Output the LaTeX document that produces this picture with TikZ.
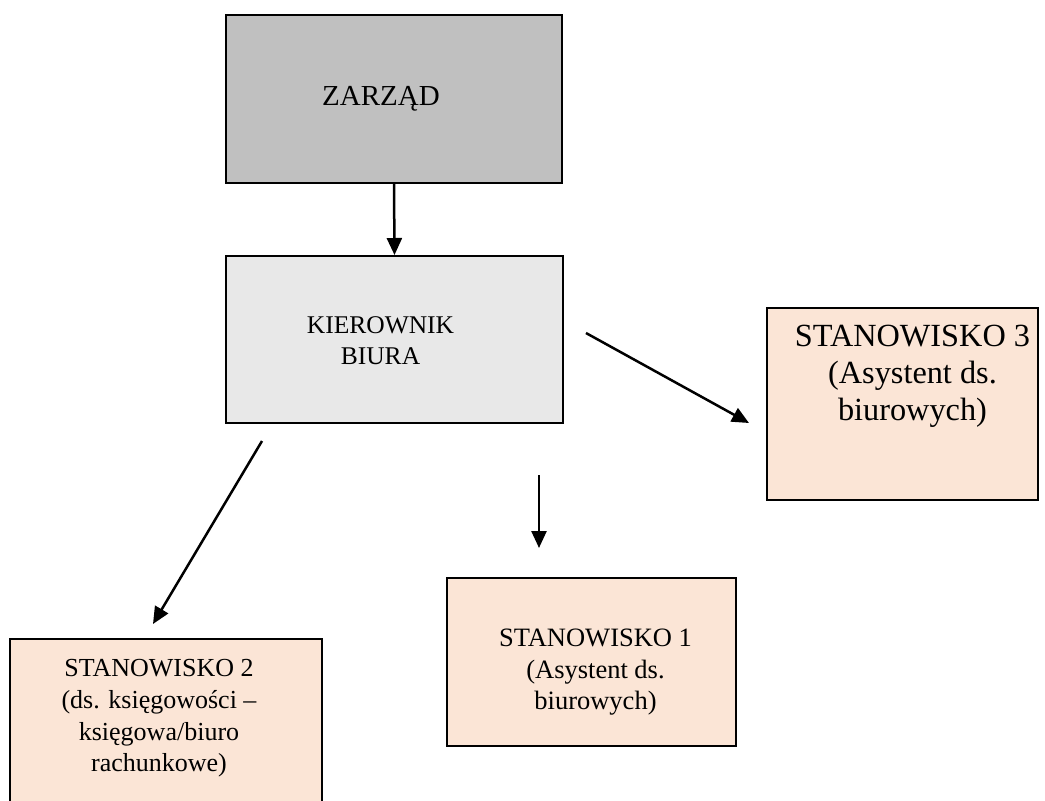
\documentclass[tikz,border=0pt]{standalone}
\usepackage{fontspec}
\setmainfont{Liberation Serif}
\usetikzlibrary{arrows.meta}
\definecolor{zarzadgray}{HTML}{C0C0C0}
\definecolor{kierownikgray}{HTML}{E8E8E8}
\definecolor{stanpeach}{HTML}{FBE5D6}
\newcommand{\napis}[3]{\raisebox{#2}[\height][\depth]{\begin{tabular}{@{\hspace{#1}}c@{}}#3\end{tabular}}}
\begin{document}
\begin{tikzpicture}[x=1pt,y=-1pt,
		box/.style={draw=black,line width=2pt,rectangle,inner sep=0pt},
		strzalka/.style={line width=2.5pt,-{Triangle[length=17pt,width=15pt]}}]
			\clip (0,0) rectangle (1045,801);
			\node[box,fill=zarzadgray,minimum width=336pt,minimum height=168pt,font=\fontsize{29}{33}\selectfont] (zarzad) at (394,99) {\napis{-26pt}{0pt}{ZARZĄD}};
			\node[box,fill=kierownikgray,minimum width=337pt,minimum height=167pt,font=\fontsize{25.5}{31}\selectfont] (kierownik) at (394.5,339.5) {\napis{-28pt}{-3pt}{KIEROWNIK\\BIURA}};
			\node[box,fill=stanpeach,minimum width=271pt,minimum height=192pt,font=\fontsize{32.3}{37}\selectfont] (stan3) at (902.5,404) {\napis{20pt}{28pt}{STANOWISKO 3\\(Asystent ds.\\biurowych)}};
			\node[box,fill=stanpeach,minimum width=289pt,minimum height=168pt,font=\fontsize{26.5}{31.5}\selectfont] (stan1) at (591.5,662) {\napis{8pt}{-10pt}{STANOWISKO 1\\(Asystent ds.\\biurowych)}};
			\node[box,fill=stanpeach,minimum width=312pt,minimum height=166pt,font=\fontsize{26}{31.7}\selectfont] (stan2) at (166,722) {\napis{-14pt}{4pt}{STANOWISKO 2\\(ds. księgowości –\\księgowa/biuro\\rachunkowe)}};
			\coordinate (k3a) at (586,333);
			\coordinate (k3b) at (749,423);
			\coordinate (k1a) at (539,475);
			\coordinate (k1b) at (539,548);
			\coordinate (k2a) at (262,441);
			\coordinate (k2b) at (153,624);
			\draw[strzalka] (zarzad.south) -- (kierownik.north);
			\draw[strzalka] (k3a) -- (k3b);
			\draw[strzalka] (k1a) -- (k1b);
			\draw[strzalka] (k2a) -- (k2b);
		\end{tikzpicture}
\end{document}
